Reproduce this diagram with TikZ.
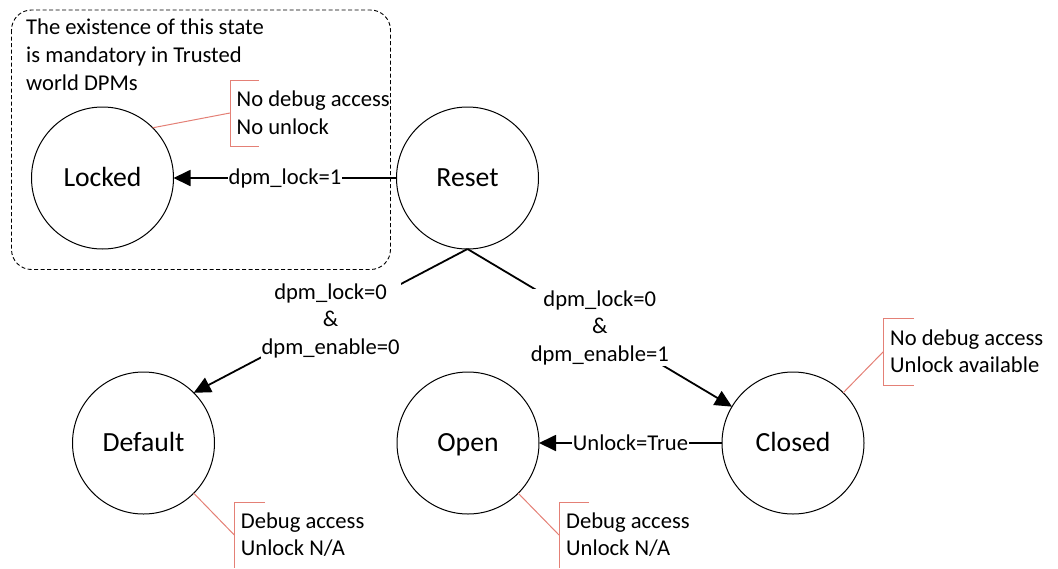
\documentclass[tikz,border=0pt]{standalone}
\usepackage{fontspec}
\setmainfont{Carlito}
\usetikzlibrary{arrows.meta}
\definecolor{calloutred}{RGB}{228,128,118}
\begin{document}
\begin{tikzpicture}[x=1pt,y=-1pt,
  state/.style={circle,draw,line width=1pt,minimum size=142pt,inner sep=0pt,outer sep=0pt,
    text height=17.8pt,text depth=0pt,font=\fontsize{27.7}{33}\selectfont},
  trans/.style={line width=1.8pt,-{Triangle[length=17pt,width=16pt]}},
  lbl/.style={fill=white,inner sep=1pt,align=center,font=\fontsize{22.6}{27.7}\selectfont},
  txt/.style={anchor=base west,inner sep=0pt,font=\fontsize{22.6}{27.7}\selectfont},
  callout/.style={draw=calloutred,line width=1pt},
  groupbox/.style={draw,line width=0.9pt,dash pattern=on 4pt off 2.5pt,rounded corners=20pt}
]
\useasboundingbox (0,0) rectangle (1058,568);
% dashed group
\draw[groupbox] (11.5,10) rectangle (390.5,269.5);
\node[txt] (c1) at (26,34.3) {The existence of this state};
\node[txt] (c2) at (26,62.6) {is mandatory in Trusted};
\node[txt] (c3) at (26,90.9) {world DPMs};
% states
\node[state] (locked) at (102.5,178) {Locked};
\node[state] (reset) at (467.5,178) {Reset};
\node[state] (default) at (143.5,443) {Default};
\node[state] (open) at (468,443) {Open};
\node[state] (closed) at (793,443) {Closed};
% transitions
\draw[trans] (reset) -- node[lbl] (l1) {dpm\_lock=1} (locked);
\draw[trans] (reset.south) -- node[lbl] (l2) {dpm\_lock=0\\\&\\dpm\_enable=0} (default.north east);
\draw[trans] (reset.south) -- node[lbl] (l3) {dpm\_lock=0\\\&\\dpm\_enable=1} (closed);
\draw[trans] (closed) -- node[lbl] (l4) {Unlock=True} (open);
% callouts
\coordinate (bL) at (230,113);
\draw[callout] (259,80) -- (230,80) -- (230,146) -- (259,146);
\draw[callout] (locked.north east) -- (bL);
\node[txt] (t1a) at (236.5,106) {No debug access};
\node[txt] (t1b) at (236.5,134) {No unlock};

\coordinate (bC) at (883.3,351.7);
\draw[callout] (914,318.3) -- (883.3,318.3) -- (883.3,385) -- (914,385);
\draw[callout] (closed.north east) -- (bC);
\node[txt] (t2a) at (890,345) {No debug access};
\node[txt] (t2b) at (890,372.5) {Unlock available};

\coordinate (bD) at (234.3,535);
\draw[callout] (265,502.3) -- (234.3,502.3) -- (234.3,568);
\draw[callout] (default.south east) -- (bD);
\node[txt] (t3a) at (240.7,528.3) {Debug access};
\node[txt] (t3b) at (240.7,555.5) {Unlock N/A};

\coordinate (bO) at (559,535);
\draw[callout] (589,502.3) -- (559,502.3) -- (559,568);
\draw[callout] (open.south east) -- (bO);
\node[txt] (t4a) at (566,528.3) {Debug access};
\node[txt] (t4b) at (566,555.5) {Unlock N/A};
\end{tikzpicture}
\end{document}
